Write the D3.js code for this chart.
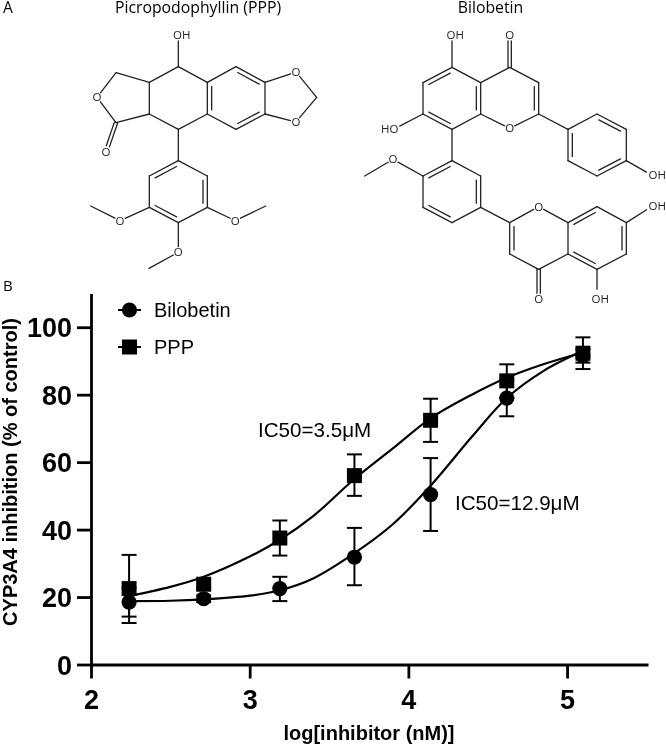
<!DOCTYPE html>
<html>
<head>
<meta charset="utf-8">
<script src="https://cdnjs.cloudflare.com/ajax/libs/d3/7.8.5/d3.min.js"></script>
<style>
  html, body { margin: 0; padding: 0; background: #fff; }
  svg { display: block; will-change: opacity; opacity: 0.999; }
  .axis path, .axis line { stroke: #000; stroke-width: 2.8px; }
  .axis text { font: bold 27px "Liberation Sans", sans-serif; fill: #000; }
</style>
</head>
<body>
<svg id="chart" width="666" height="745"></svg>
<script>
// Dose response values
const doses = [2.24, 2.71, 3.19, 3.66, 4.14, 4.62, 5.10];
const bilobetinMean = [18.5, 19.5, 22.5, 31.8, 50.4, 79, 91.5];
const bilobetinLow = [14.2, 18.5, 18.8, 23.5, 39.6, 73.6, 89.5];
const bilobetinHigh = [22.8, 20.5, 26, 40.5, 61.2, 84.4, 93.5];
const pppMean = [22.5, 23.8, 37.5, 56, 72.4, 84.1, 92.3];
const pppLow = [12.3, 22.6, 32.3, 50, 66, 79, 87.6];
const pppHigh = [32.5, 25, 42.7, 62.3, 78.8, 89, 97];

// Fitted curves
const fitDoses = [2.24, 2.5, 2.71, 3.0, 3.19, 3.4, 3.66, 3.9, 4.14, 4.4, 4.62, 4.85, 5.10];
const bilobetinFit = [18.8, 18.9, 19.3, 20.4, 22, 25.5, 33, 41.5, 53, 67.5, 79, 87, 93];
const pppFit = [20.3, 23, 26, 32, 37, 44, 55, 64, 73, 80, 85, 89, 92.5];

const yTicks = [0, 20, 40, 60, 80, 100];
const xTicks = [2, 3, 4, 5];

// Structures: atom positions in the 3x crop units, bonds as [from, to, kind]
// kind is a ring centre for an inner double bond, or "co" for a carbonyl
const pppAtoms = {
  a: [535, 200], b: [448, 247], c: [448, 342], d: [535, 388], e: [622, 342], f: [622, 247],
  g: [708, 200], h: [795, 247], i: [795, 342], j: [708, 388],
  o1: [888, 216], o2: [888, 366], ch: [950, 292],
  k: [348, 218], o3: [291, 292], l: [348, 368], o4: [318, 455],
  m: [535, 482], n: [622, 528], p: [622, 622], q: [535, 668], r: [448, 622], s: [448, 528],
  o5: [706, 662], me1: [797, 618], o6: [360, 662], me2: [272, 618], o7: [535, 757], me3: [447, 805],
  oh: [535, 106]
};
const pppBonds = [
  ["a", "oh"], ["a", "b"], ["b", "c"], ["c", "d"], ["d", "e"], ["e", "f", [708, 294]], ["f", "a"],
  ["f", "g"], ["g", "h", [708, 294]], ["h", "i"], ["i", "j", [708, 294]], ["j", "e"],
  ["h", "o1"], ["o1", "ch"], ["ch", "o2"], ["o2", "i"],
  ["b", "k"], ["k", "o3"], ["o3", "l"], ["l", "c"], ["l", "o4", "co"],
  ["d", "m"], ["m", "n"], ["n", "p", [535, 575]], ["p", "q"], ["q", "r", [535, 575]], ["r", "s"], ["s", "m", [535, 575]],
  ["p", "o5"], ["o5", "me1"], ["r", "o6"], ["o6", "me2"], ["q", "o7"], ["o7", "me3"]
];
const pppLabels = [
  ["OH", 545, 106], ["O", 888, 216], ["O", 888, 366], ["O", 291, 292],
  ["O", 318, 455], ["O", 706, 662], ["O", 360, 662], ["O", 535, 757]
];

const biloAtoms = {
  a1: [357, 202], a2: [270, 248], a3: [270, 342], a4: [357, 388], a5: [443, 342], a6: [443, 248],
  c1: [530, 202], c2: [617, 248], c3: [617, 342], o1: [530, 385], o2: [530, 106],
  oh1: [357, 106], oh2: [185, 386],
  b1: [705, 388], b2: [792, 342], b3: [880, 388], b4: [880, 482], b5: [792, 528], b6: [705, 482],
  oh3: [955, 525],
  m1: [357, 482], m2: [443, 528], m3: [443, 622], m4: [357, 668], m5: [270, 622], m6: [270, 528],
  o3: [180, 478], me: [95, 528],
  l1: [530, 668], o4: [617, 620], l3: [705, 668], l4: [705, 762], l5: [617, 808], l6: [530, 762],
  o5: [617, 897], l7: [792, 620], l8: [880, 668], l9: [880, 762], l10: [792, 808],
  oh4: [955, 620], oh5: [792, 885]
};
const biloBonds = [
  ["a1", "a2", [357, 295]], ["a2", "a3"], ["a3", "a4", [357, 295]], ["a4", "a5"], ["a5", "a6", [357, 295]], ["a6", "a1"],
  ["a6", "c1"], ["c1", "c2"], ["c2", "c3", [530, 295]], ["c3", "o1"], ["o1", "a5"], ["c1", "o2", "co"],
  ["a1", "oh1"], ["a3", "oh2"],
  ["c3", "b1"], ["b1", "b2"], ["b2", "b3", [792, 435]], ["b3", "b4"], ["b4", "b5", [792, 435]], ["b5", "b6"], ["b6", "b1", [792, 435]],
  ["b4", "oh3"], ["a4", "m1"],
  ["m1", "m2"], ["m2", "m3", [357, 575]], ["m3", "m4"], ["m4", "m5", [357, 575]], ["m5", "m6"], ["m6", "m1", [357, 575]],
  ["m6", "o3"], ["o3", "me"], ["m3", "l1"],
  ["l1", "o4"], ["o4", "l3"], ["l3", "l4"], ["l4", "l5"], ["l5", "l6"], ["l6", "l1", [617, 715]], ["l5", "o5", "co"],
  ["l3", "l7", [792, 715]], ["l7", "l8"], ["l8", "l9", [792, 715]], ["l9", "l10"], ["l10", "l4", [792, 715]],
  ["l8", "oh4"], ["l10", "oh5"]
];
const biloLabels = [
  ["OH", 367, 106], ["O", 530, 106], ["HO", 170, 386], ["O", 530, 385], ["OH", 973, 525],
  ["O", 180, 478], ["O", 617, 620], ["OH", 973, 618], ["O", 617, 897], ["OH", 802, 897]
];

const svg = d3.select("#chart");

// Panel letters and titles
const sans = '"Open Sans", sans-serif';
svg.append("text").text("A").attr("x", 3).attr("y", 13)
  .style("font", "15.5px " + sans);
svg.append("text").text("B").attr("x", 3).attr("y", 291)
  .style("font", "15px " + sans);
svg.append("text").text("Picropodophyllin (PPP)").attr("x", 198).attr("y", 13)
  .attr("text-anchor", "middle").style("font", "15.8px " + sans);
svg.append("text").text("Bilobetin").attr("x", 490.5).attr("y", 13)
  .attr("text-anchor", "middle").style("font", "15.8px " + sans);

function drawStructure(atoms, bonds, labels, offsetX) {
  const sx = d3.scaleLinear().domain([0, 999]).range([offsetX, offsetX + 333]);
  const sy = d3.scaleLinear().domain([0, 999]).range([0, 333]);
  const g = svg.append("g").attr("class", "structure");

  // Bonds stop short of a labelled atom
  const labelled = p => labels.some(l => Math.hypot(l[1] - p[0], l[2] - p[1]) < 25);
  const gap = 17;

  const segments = [];
  bonds.forEach(([from, to, kind]) => {
    const [ax, ay] = atoms[from];
    const [bx, by] = atoms[to];
    const len = Math.hypot(bx - ax, by - ay);
    const ux = (bx - ax) / len, uy = (by - ay) / len;
    const startGap = labelled(atoms[from]) ? gap : 0;
    const endGap = labelled(atoms[to]) ? gap : 0;
    const x1 = ax + ux * startGap, y1 = ay + uy * startGap;
    const x2 = bx - ux * endGap, y2 = by - uy * endGap;
    const dx = x2 - x1, dy = y2 - y1;
    let nx = -uy, ny = ux;
    if (kind === "co") {
      // carbonyl: two lines either side of the bond axis
      segments.push([x1 + nx * 5, y1 + ny * 5, x2 + nx * 5, y2 + ny * 5]);
      segments.push([x1 - nx * 5, y1 - ny * 5, x2 - nx * 5, y2 - ny * 5]);
      return;
    }
    segments.push([x1, y1, x2, y2]);
    if (kind) {
      // inner line of a ring double bond
      if ((kind[0] - x1) * nx + (kind[1] - y1) * ny < 0) { nx = -nx; ny = -ny; }
      const trim = 0.13;
      segments.push([
        x1 + dx * trim + nx * 13, y1 + dy * trim + ny * 13,
        x2 - dx * trim + nx * 13, y2 - dy * trim + ny * 13
      ]);
    }
  });

  g.selectAll("line").data(segments).enter().append("line")
    .attr("x1", d => sx(d[0])).attr("y1", d => sy(d[1]))
    .attr("x2", d => sx(d[2])).attr("y2", d => sy(d[3]))
    .attr("stroke", "#222").attr("stroke-width", 1.3).attr("stroke-linecap", "round");

  g.selectAll("text").data(labels).enter().append("text")
    .text(d => d[0])
    .attr("x", d => sx(d[1])).attr("y", d => sy(d[2]))
    .attr("dy", "0.36em")
    .attr("text-anchor", "middle")
    .attr("fill", "#222")
    .style("font", "11.5px " + sans);
}

drawStructure(pppAtoms, pppBonds, pppLabels, 0);
drawStructure(biloAtoms, biloBonds, biloLabels, 333);

// Dose response plot
const x = d3.scaleLinear().domain([2, 5.51]).range([91, 648]);
const y = d3.scaleLinear().domain([0, 110]).range([664.5, 293.5]);

svg.append("g").attr("class", "axis")
  .attr("transform", "translate(0," + y(0) + ")")
  .call(d3.axisBottom(x).tickValues(xTicks).tickFormat(d3.format("d")).tickSize(14).tickSizeOuter(0))
  .call(a => a.selectAll("text").attr("dy", 0).attr("y", 44.5));

svg.append("g").attr("class", "axis")
  .attr("transform", "translate(" + x(2) + ",0)")
  .call(d3.axisLeft(y).tickValues(yTicks).tickSize(14).tickSizeOuter(0))
  .call(a => a.selectAll("text").attr("x", -19).attr("dy", "0.36em"));

svg.append("text").text("log[inhibitor (nM)]")
  .attr("x", 369).attr("y", 740).attr("text-anchor", "middle")
  .style("font", 'bold 20px "Liberation Sans", sans-serif');

svg.append("text").text("CYP3A4 inhibition (% of control)")
  .attr("transform", "translate(16.5,472) rotate(-90)").attr("text-anchor", "middle")
  .style("font", 'bold 20px "Liberation Sans", sans-serif');

const fitLine = d3.line()
  .x((d, i) => x(fitDoses[i]))
  .y(d => y(d))
  .curve(d3.curveCatmullRom);

[bilobetinFit, pppFit].forEach(fit => {
  svg.append("path").attr("d", fitLine(fit))
    .attr("fill", "none").attr("stroke", "#000").attr("stroke-width", 2.2);
});

function drawErrors(low, high) {
  const g = svg.append("g").attr("stroke", "#000").attr("stroke-width", 2);
  doses.forEach((dose, i) => {
    g.append("line").attr("x1", x(dose)).attr("x2", x(dose)).attr("y1", y(low[i])).attr("y2", y(high[i]));
    [low[i], high[i]].forEach(v => {
      g.append("line").attr("x1", x(dose) - 7.5).attr("x2", x(dose) + 7.5).attr("y1", y(v)).attr("y2", y(v));
    });
  });
}
drawErrors(bilobetinLow, bilobetinHigh);
drawErrors(pppLow, pppHigh);

svg.append("g").selectAll("circle").data(bilobetinMean).enter().append("circle")
  .attr("cx", (d, i) => x(doses[i])).attr("cy", d => y(d)).attr("r", 7.6);
svg.append("g").selectAll("rect").data(pppMean).enter().append("rect")
  .attr("x", (d, i) => x(doses[i]) - 7.5).attr("y", d => y(d) - 7.5)
  .attr("width", 15).attr("height", 15);

// Legend
const legend = [["Bilobetin", 310], ["PPP", 347]];
legend.forEach(([name, ly], i) => {
  svg.append("line").attr("x1", 118).attr("x2", 141).attr("y1", ly).attr("y2", ly)
    .attr("stroke", "#000").attr("stroke-width", 2);
  if (i === 0) {
    svg.append("circle").attr("cx", 129.5).attr("cy", ly).attr("r", 7.6);
  } else {
    svg.append("rect").attr("x", 122).attr("y", ly - 7.5).attr("width", 15).attr("height", 15);
  }
  svg.append("text").text(name).attr("x", 154).attr("y", ly + 7)
    .style("font", '20px "Liberation Sans", sans-serif');
});

// IC50 notes
const notes = [["IC50=3.5\u03BCM", 258, 437], ["IC50=12.9\u03BCM", 455, 510]];
notes.forEach(([label, nx, ny]) => {
  svg.append("text").text(label).attr("x", nx).attr("y", ny)
    .style("font", '20.6px "Liberation Sans", sans-serif');
});
</script>
</body>
</html>
